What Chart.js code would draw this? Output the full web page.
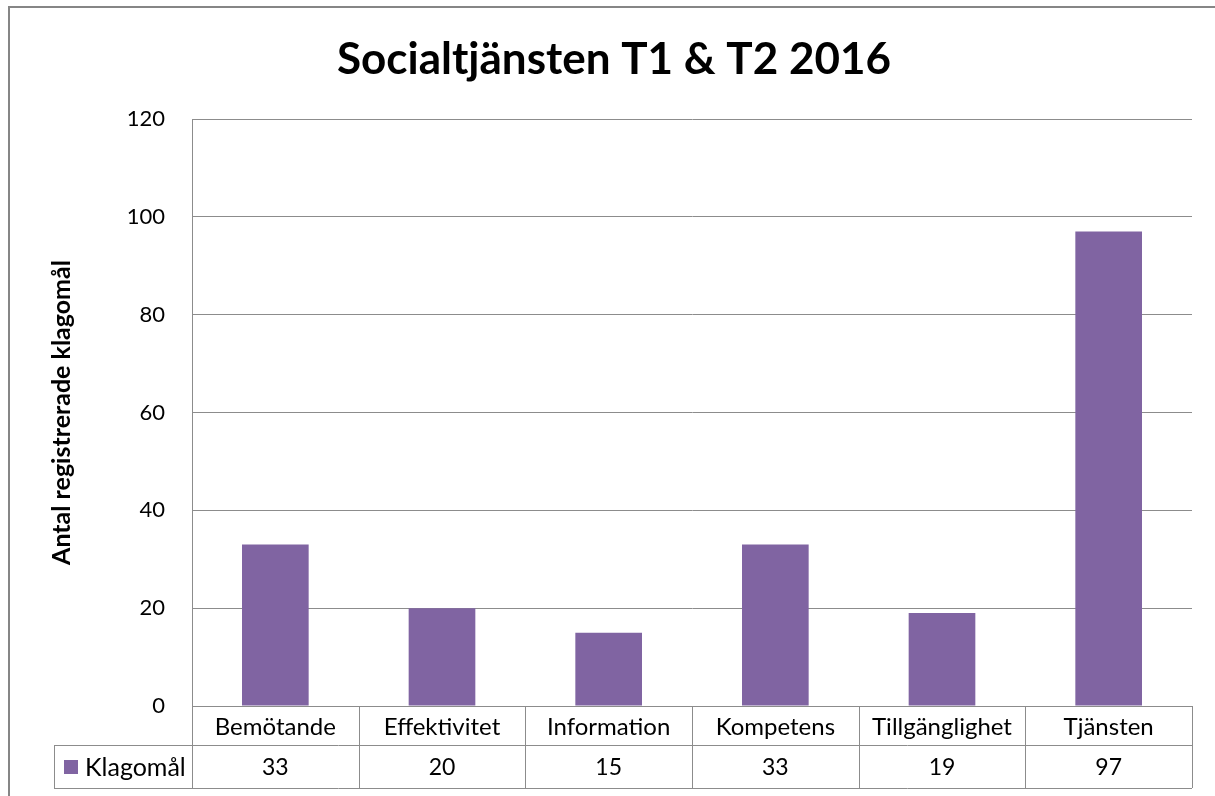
<!DOCTYPE html>
<html>
<head>
<meta charset="utf-8">
<script src="https://cdn.jsdelivr.net/npm/chart.js@4"></script>
<style>
  html, body { margin: 0; padding: 0; background: #fff; }
  canvas { display: block; }
</style>
</head>
<body>
<canvas id="chart" width="1215" height="796"></canvas>
<script>
const categories = ["Bemötande", "Effektivitet", "Information", "Kompetens", "Tillgänglighet", "Tjänsten"];
const klagomal = [33, 20, 15, 33, 19, 97];
const seriesName = "Klagomål";
const yTicks = [0, 20, 40, 60, 80, 100, 120];

const FONT = "Lato, 'Noto Sans', sans-serif";
const barColor = "#8064A2";
const lineColor = "#8c8c8c";

// frame + data table under the plot
const tablePlugin = {
  id: "dataTable",
  afterDraw(chart) {
    const ctx = chart.ctx;
    const x = chart.scales.x;
    const area = chart.chartArea;
    const step = (area.right - area.left) / categories.length;
    const row1 = area.bottom;
    const row2 = row1 + 39;
    const row3 = row2 + 43;
    const left = 54;

    ctx.save();
    ctx.strokeStyle = lineColor;
    ctx.lineWidth = 1;
    ctx.beginPath();
    ctx.moveTo(area.left, row1 + 0.5); ctx.lineTo(area.right, row1 + 0.5);
    ctx.moveTo(left, row2 + 0.5); ctx.lineTo(area.right, row2 + 0.5);
    ctx.moveTo(left, row3 + 0.5); ctx.lineTo(area.right, row3 + 0.5);
    ctx.moveTo(left + 0.5, row2); ctx.lineTo(left + 0.5, row3);
    for (let i = 0; i <= categories.length; i++) {
      const px = Math.round(area.left + i * step) + 0.5;
      ctx.moveTo(px, row1); ctx.lineTo(px, row3);
    }
    ctx.stroke();

    ctx.fillStyle = "#000";
    ctx.font = "23px " + FONT;
    ctx.textAlign = "center";
    ctx.textBaseline = "middle";
    klagomal.forEach((v, i) => {
      ctx.fillText(String(v), x.getPixelForValue(i), (row2 + row3) / 2 + 1);
    });

    ctx.fillStyle = barColor;
    ctx.fillRect(64, 760, 14, 14);
    ctx.fillStyle = "#000";
    ctx.textAlign = "left";
    ctx.font = "25px " + FONT;
    ctx.fillText(seriesName, 85, (row2 + row3) / 2 + 1);

    // outer frame
    ctx.strokeStyle = "#868686";
    ctx.lineWidth = 2;
    ctx.strokeRect(9, 7, 1400, 1000);
    ctx.restore();
  }
};

new Chart(document.getElementById("chart"), {
  type: "bar",
  data: {
    labels: categories,
    datasets: [{
      label: seriesName,
      data: klagomal,
      backgroundColor: barColor,
      barPercentage: 0.4,
      categoryPercentage: 1
    }]
  },
  options: {
    responsive: false,
    animation: false,
    layout: { padding: { left: 36, right: 23, top: 0, bottom: 0 } },
    plugins: {
      legend: { display: false },
      tooltip: { enabled: false },
      title: {
        display: true,
        text: "Socialtjänsten T1 & T2 2016",
        color: "#000",
        font: { family: FONT, size: 44, weight: "bold" },
        padding: { top: 33, bottom: 33.2 }
      }
    },
    scales: {
      x: {
        grid: { display: false, drawTicks: false },
        border: { display: false },
        ticks: { color: "#000", font: { family: FONT, size: 24 }, padding: 7, maxRotation: 0 },
        afterFit(scale) { scale.height = 90; }
      },
      y: {
        min: 0,
        max: 120,
        afterBuildTicks(scale) { scale.ticks = yTicks.map(v => ({ value: v })); },
        grid: { color: lineColor, drawTicks: false },
        border: { display: true, color: lineColor },
        ticks: { color: "#000", font: { family: FONT, size: 22 }, padding: 27 },
        title: {
          display: true,
          text: "Antal registrerade klagomål",
          color: "#000",
          font: { family: FONT, size: 25, weight: "bold" },
          padding: { top: 11, bottom: 0 }
        },
        afterFit(scale) { scale.width = 156; }
      }
    }
  },
  plugins: [tablePlugin]
});
</script>
</body>
</html>
